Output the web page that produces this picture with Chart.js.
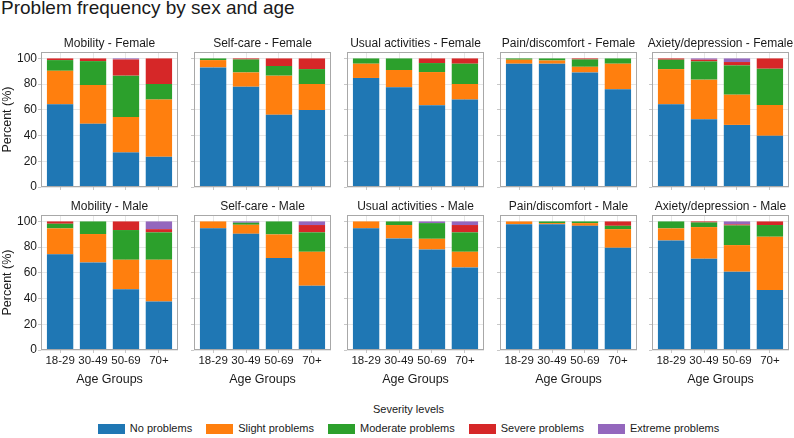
<!DOCTYPE html>
<html><head><meta charset="utf-8">
<script src="https://cdn.jsdelivr.net/npm/chart.js@4/dist/chart.umd.min.js"></script>
<style>
html,body{margin:0;padding:0;background:#fff;}
body{width:794px;height:438px;position:relative;overflow:hidden;font-family:"Liberation Sans",Arial,Helvetica,sans-serif;color:#1a1a1a;}
#title{position:absolute;left:1px;top:-2px;font-size:19px;line-height:19px;white-space:nowrap;}
.panel{position:absolute;}
.panel canvas{display:block;}
#legendTitle{position:absolute;left:0;width:817px;top:403px;text-align:center;font-size:11px;line-height:13px;}
#legend{position:absolute;left:0;width:817px;top:422px;display:flex;justify-content:center;align-items:center;font-size:11px;line-height:13px;}
.item{display:flex;align-items:center;margin:0 7px;}
.box{width:27px;height:10px;margin-right:5px;}
</style></head>
<body>
<div id="title">Problem frequency by sex and age</div>
<div id="legendTitle">Severity levels</div>
<div id="legend"></div>
<script>
// ---- data ----
const ageGroups = ['18-29', '30-49', '50-69', '70+'];
const severityLevels = ['No problems', 'Slight problems', 'Moderate problems', 'Severe problems', 'Extreme problems'];
const yTickValues = [0, 20, 40, 60, 80, 100];

// rows: No, Slight, Moderate, Severe, Extreme ; columns: age groups
const mobilityFemale = [
  [64.3, 49.1, 26.9, 23.5],
  [26.1, 30.2, 27.6, 44.5],
  [8.3, 18.6, 32.1, 12.1],
  [1.3, 2.1, 12.6, 19.9],
  [0, 0, 0.8, 0]
];
const selfCareFemale = [
  [93.0, 78.0, 56.1, 59.9],
  [5.7, 11.1, 30.5, 20.2],
  [1.3, 10.1, 7.5, 11.6],
  [0, 0.8, 5.9, 8.3],
  [0, 0, 0, 0]
];
const usualActivitiesFemale = [
  [84.8, 77.5, 63.6, 68.0],
  [11.1, 13.5, 25.8, 12.1],
  [4.1, 9.0, 7.0, 15.8],
  [0, 0, 3.6, 4.1],
  [0, 0, 0, 0]
];
const painFemale = [
  [95.9, 95.9, 89.1, 76.0],
  [3.1, 2.5, 4.4, 19.9],
  [1.0, 1.6, 5.7, 4.1],
  [0, 0, 0.8, 0],
  [0, 0, 0, 0]
];
const anxietyFemale = [
  [64.3, 52.7, 48.3, 39.8],
  [27.4, 30.8, 23.5, 24.0],
  [7.3, 14.2, 22.8, 28.2],
  [1.0, 1.3, 2.6, 8.0],
  [0, 1.0, 2.8, 0]
];
const mobilityMale = [
  [74.4, 68.1, 47.2, 37.8],
  [20.2, 22.1, 23.0, 32.4],
  [3.6, 9.8, 23.1, 21.3],
  [1.8, 0, 6.7, 2.5],
  [0, 0, 0, 6.0]
];
const selfCareMale = [
  [94.6, 90.4, 71.5, 50.0],
  [5.4, 7.0, 18.4, 26.4],
  [0, 1.6, 10.1, 15.1],
  [0, 0, 0, 5.7],
  [0, 1.0, 0, 2.8]
];
const usualActivitiesMale = [
  [94.6, 86.8, 78.2, 64.2],
  [5.4, 10.4, 8.3, 12.2],
  [0, 2.8, 12.2, 15.1],
  [0, 0, 0, 5.7],
  [0, 0, 1.3, 2.8]
];
const painMale = [
  [97.9, 97.9, 96.6, 79.5],
  [2.1, 0.8, 2.1, 14.5],
  [0, 1.3, 1.3, 2.6],
  [0, 0, 0, 3.4],
  [0, 0, 0, 0]
];
const anxietyMale = [
  [85.2, 71.0, 60.9, 46.6],
  [9.4, 24.6, 20.7, 41.5],
  [5.4, 3.6, 15.3, 9.1],
  [0, 0.8, 0.8, 2.8],
  [0, 0, 2.3, 0]
];

const panels = [
  {title: 'Mobility - Female', data: mobilityFemale},
  {title: 'Self-care - Female', data: selfCareFemale},
  {title: 'Usual activities - Female', data: usualActivitiesFemale},
  {title: 'Pain/discomfort - Female', data: painFemale},
  {title: 'Axiety/depression - Female', data: anxietyFemale},
  {title: 'Mobility - Male', data: mobilityMale},
  {title: 'Self-care - Male', data: selfCareMale},
  {title: 'Usual activities - Male', data: usualActivitiesMale},
  {title: 'Pain/discomfort - Male', data: painMale},
  {title: 'Axiety/depression - Male', data: anxietyMale}
];

// ---- style / layout ----
const colors = ['#1f77b4', '#ff7f0e', '#2ca02c', '#d62728', '#9467bd'];
const FONT = '"Liberation Sans", Arial, Helvetica, sans-serif';
const TEXT = '#1a1a1a';
const GRID = 'rgba(176,176,176,0.3)';
const FRAME = '#a8a8a8';
const PLOT_LEFT = [41, 194, 347, 500, 652];
const PLOT_W = 137;
const ROW_TOP = [52, 215];
const PLOT_H = 135;
const TITLE_BLOCK = 16;
const RIGHT_PAD = 10;

Chart.defaults.font.family = FONT;
Chart.defaults.color = TEXT;

// frame around plot area + panel title centred over the plot area
const framePlugin = {
  id: 'frame',
  afterDraw(chart) {
    const {ctx, chartArea: a} = chart;
    ctx.save();
    ctx.strokeStyle = FRAME;
    ctx.lineWidth = 1;
    ctx.strokeRect(a.left + 0.5, a.top + 0.5, a.right - a.left - 1, a.bottom - a.top - 1);
    const t = chart.options.plugins.panelTitle.text;
    ctx.fillStyle = TEXT;
    ctx.font = '12px ' + FONT;
    ctx.textAlign = 'center';
    ctx.textBaseline = 'alphabetic';
    ctx.fillText(t, (a.left + a.right) / 2, a.top - 5.5);
    ctx.restore();
  }
};

panels.forEach((p, idx) => {
  const row = Math.floor(idx / 5), col = idx % 5;
  const isLeft = col === 0, isBottom = row === 1;
  const yw = isLeft ? 41 : 14;
  const xh = isBottom ? 38 : 4;
  const left = PLOT_LEFT[col] - yw;
  const top = ROW_TOP[row] - TITLE_BLOCK;
  const w = yw + PLOT_W + RIGHT_PAD, h = TITLE_BLOCK + PLOT_H + xh;
  const div = document.createElement('div');
  div.className = 'panel';
  div.style.left = left + 'px';
  div.style.top = top + 'px';
  const cv = document.createElement('canvas');
  cv.width = w; cv.height = h;
  cv.style.width = w + 'px'; cv.style.height = h + 'px';
  div.appendChild(cv);
  document.body.appendChild(div);

  new Chart(cv.getContext('2d'), {
    type: 'bar',
    data: {
      datasets: severityLevels.map((s, k) => ({
        label: s,
        data: p.data[k].map((v, i) => ({x: i, y: v})),
        backgroundColor: colors[k],
        borderWidth: 0,
        barPercentage: 0.8,
        categoryPercentage: 1
      }))
    },
    options: {
      responsive: false,
      animation: false,
      devicePixelRatio: 1,
      layout: {padding: {left: 0, right: RIGHT_PAD, top: TITLE_BLOCK, bottom: 0}},
      plugins: {
        legend: {display: false},
        tooltip: {enabled: false},
        title: {display: false},
        panelTitle: {text: p.title}
      },
      scales: {
        x: {
          type: 'linear', stacked: true, offset: false, min: -0.58, max: 3.58, z: 1,
          afterBuildTicks: s => { s.ticks = ageGroups.map((_, i) => ({value: i})); },
          afterFit: s => { s.height = xh; s.paddingLeft = 0; s.paddingRight = 0; },
          ticks: {display: isBottom, callback: v => ageGroups[v], font: {size: 11.5}, color: TEXT, padding: 1, maxRotation: 0, autoSkip: false},
          grid: {color: GRID, tickLength: 3, tickColor: '#c8c8c8', offset: false},
          border: {display: false},
          title: {display: isBottom, text: 'Age Groups', color: TEXT, font: {size: 12.5}, padding: {top: 0, bottom: 0.5}}
        },
        y: {
          stacked: true, min: 0, max: 105, z: 1,
          afterBuildTicks: s => { s.ticks = yTickValues.map(v => ({value: v})); },
          afterFit: s => { s.width = yw; s.paddingTop = 0; s.paddingBottom = 0; },
          ticks: {display: isLeft, font: {size: 12}, color: TEXT, padding: 1},
          grid: {color: GRID, tickLength: 3, tickColor: '#c8c8c8'},
          border: {display: false},
          title: {display: isLeft, text: 'Percent (%)', color: TEXT, font: {size: 12.5}, padding: {top: 0, bottom: 0}}
        }
      }
    },
    plugins: [framePlugin]
  });
});

// legend
const leg = document.getElementById('legend');
severityLevels.forEach((s, k) => {
  const it = document.createElement('div');
  it.className = 'item';
  const b = document.createElement('div');
  b.className = 'box';
  b.style.background = colors[k];
  const t = document.createElement('span');
  t.textContent = s;
  it.appendChild(b); it.appendChild(t);
  leg.appendChild(it);
});
</script>
</body></html>
